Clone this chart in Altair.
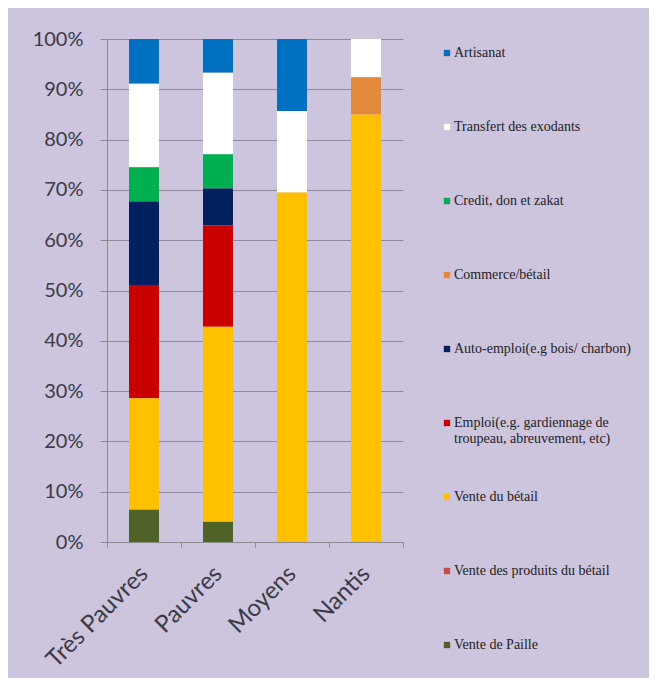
import altair as alt
import pandas as pd

categories = ["Très Pauvres", "Pauvres", "Moyens", "Nantis"]

# legend order (top to bottom); '|' marks a line break in the legend label
series = [
    "Artisanat|",
    "Transfert des exodants|",
    "Credit, don et zakat|",
    "Commerce/bétail|",
    "Auto-emploi(e.g bois/ charbon)|",
    "Emploi(e.g. gardiennage de|troupeau, abreuvement, etc)",
    "Vente du bétail|",
    "Vente des produits du bétail|",
    "Vente de Paille|",
]
colors = ["#0070c0", "#ffffff", "#00b050", "#e2893b", "#002060",
          "#c80000", "#ffc000", "#c0504d", "#4f6228"]

# values in % per category (Très Pauvres, Pauvres, Moyens, Nantis)
artisanat = [8.9, 6.7, 14.3, 0.0]
transfert = [16.6, 16.2, 16.2, 7.6]
credit = [6.8, 6.8, 0.0, 0.0]
commerce = [0.0, 0.0, 0.0, 7.4]
auto_emploi = [16.6, 7.4, 0.0, 0.0]
emploi = [22.5, 20.1, 0.0, 0.0]
vente_betail = [22.2, 38.8, 69.5, 85.0]
vente_produits = [0.0, 0.0, 0.0, 0.0]
vente_paille = [6.4, 4.0, 0.0, 0.0]

values = [artisanat, transfert, credit, commerce, auto_emploi, emploi,
          vente_betail, vente_produits, vente_paille]

rows = []
for si, (name, vals) in enumerate(zip(series, values)):
    for c, v in zip(categories, vals):
        rows.append({"cat": c, "serie": name, "val": v,
                     "ord": len(series) - 1 - si})
df = pd.DataFrame(rows)

bars = alt.Chart(df).mark_bar(size=30).encode(
    x=alt.X("cat:N", sort=categories, title=None,
            scale=alt.Scale(paddingInner=0, paddingOuter=0),
            axis=alt.Axis(labelAngle=-45, labelAlign="right", labelBaseline="middle",
                          labelFont="Lato", labelFontSize=24, labelColor="#3a3a48",
                          labelPadding=23, tickBand="extent", ticks=True, tickSize=5,
                          tickColor="#8a8a8a", domainColor="#8a8a8a", grid=False)),
    y=alt.Y("val:Q", stack="normalize", title=None,
            scale=alt.Scale(domain=[0, 1], nice=False),
            axis=alt.Axis(format="%", values=[i / 10 for i in range(11)],
                          labelFont="Lato", labelFontSize=20, labelColor="#3a3a48",
                          labelPadding=17, tickSize=7, tickColor="#8a8a8a",
                          domainColor="#8a8a8a", gridColor="#8e8a98", gridWidth=1)),
    color=alt.Color("serie:N", scale=alt.Scale(domain=series, range=colors),
                    legend=alt.Legend(title=None, orient="none", legendX=333, legendY=7,
                                      symbolType="square", symbolSize=40,
                                      symbolStrokeWidth=0,
                                      labelFont="Liberation Serif", labelFontSize=14,
                                      labelColor="#222222", labelOffset=0,
                                      labelExpr="split(datum.label, '|')",
                                      rowPadding=44, padding=0, labelLimit=300)),
    order=alt.Order("ord:Q", sort="ascending"),
)

chart = bars.properties(
    width=296, height=503,
    autosize=alt.AutoSizeParams(type="none"),
    padding={"left": 99, "top": 31, "right": 246, "bottom": 136},
    background="#cdc4de",
).configure_view(stroke=None)

chart.save("out.html", embed_options={"renderer": "svg", "actions": False})
